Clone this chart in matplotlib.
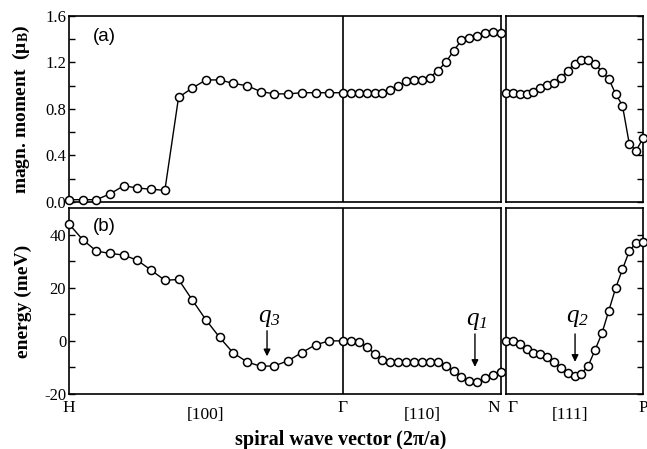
import matplotlib
matplotlib.use("Agg")
import matplotlib.pyplot as plt
import numpy as np

plt.rcParams['font.family'] = ['Liberation Serif', 'DejaVu Serif']
plt.rcParams['mathtext.fontset'] = 'custom'
plt.rcParams['mathtext.rm'] = 'Liberation Serif'
plt.rcParams['mathtext.it'] = 'Liberation Serif:italic'
plt.rcParams['mathtext.bf'] = 'Liberation Serif:bold'
# italic digits for the q subscripts (mathit forces digits upright)
plt.rcParams['mathtext.cal'] = 'Liberation Serif:italic'
plt.rcParams['axes.unicode_minus'] = False

# path segment lengths (in the plot's own x units, H-Gamma = 1)
len_hg, len_gn, len_gp = 1.0, 0.577, 0.5
npts = 21

# magnetic moment (mu_B) along H->Gamma, Gamma->N, Gamma->P
mom_hg = [0.02, 0.02, 0.02, 0.07, 0.14, 0.12, 0.11, 0.10, 0.90, 0.98, 1.05,
          1.05, 1.02, 1.00, 0.95, 0.93, 0.93, 0.94, 0.94, 0.94, 0.94]
mom_gn = [0.94, 0.94, 0.94, 0.94, 0.94, 0.94, 0.96, 1.00, 1.04, 1.05, 1.05,
          1.07, 1.13, 1.20, 1.30, 1.39, 1.41, 1.43, 1.45, 1.46, 1.45]
mom_gp = [0.94, 0.94, 0.93, 0.93, 0.95, 0.98, 1.01, 1.02, 1.07, 1.13, 1.19,
          1.22, 1.22, 1.19, 1.12, 1.06, 0.93, 0.83, 0.50, 0.44, 0.55]

# energy (meV)
en_hg = [44.0, 38.1, 33.8, 32.9, 32.3, 30.3, 26.6, 22.8, 23.1, 15.4, 7.9,
         1.3, -4.6, -7.9, -9.6, -9.4, -7.5, -4.4, -1.5, 0.0, 0.0]
en_gn = [0.0, 0.0, -0.6, -2.2, -4.8, -7.1, -8.0, -7.8, -7.8, -7.9, -7.9,
         -8.0, -8.1, -9.4, -11.3, -13.5, -15.0, -15.3, -14.1, -12.9, -11.6]
en_gp = [0.0, 0.0, -1.0, -3.1, -4.4, -5.1, -5.9, -7.8, -10.4, -12.1, -13.1,
         -12.3, -9.4, -3.4, 2.8, 11.3, 19.8, 26.9, 33.8, 36.9, 37.3]

x_hg = np.linspace(0, len_hg, npts)
x_gn = len_hg + np.linspace(0, len_gn, npts)
x_gp = np.linspace(0, len_gp, npts)

fig = plt.figure(figsize=(6.47, 4.49), dpi=100)
axL_top = fig.add_axes([0.1066, 0.5501, 0.6677, 0.4143])
axR_top = fig.add_axes([0.7821, 0.5501, 0.2117, 0.4143])
axL_bot = fig.add_axes([0.1066, 0.1225, 0.6677, 0.4142])
axR_bot = fig.add_axes([0.7821, 0.1225, 0.2117, 0.4142])

style = dict(color='black', lw=1.0, marker='o', ms=5.8, mfc='white',
             mec='black', mew=1.1, clip_on=False, zorder=3)

axL_top.plot(np.concatenate([x_hg, x_gn[1:]]), mom_hg + mom_gn[1:], **style)
axR_top.plot(x_gp, mom_gp, **style)
axL_bot.plot(np.concatenate([x_hg, x_gn[1:]]), en_hg + en_gn[1:], **style)
axR_bot.plot(x_gp, en_gp, **style)

for ax in (axL_top, axL_bot):
    ax.set_xlim(0, len_hg + len_gn)
    ax.axvline(len_hg, color='black', lw=1.2, zorder=2)
for ax in (axR_top, axR_bot):
    ax.set_xlim(0, len_gp)

for ax in (axL_top, axR_top):
    ax.set_ylim(0, 1.6)
    ax.set_yticks(np.arange(0, 1.61, 0.4))
    ax.set_yticks(np.arange(0.2, 1.6, 0.4), minor=True)
for ax in (axL_bot, axR_bot):
    ax.set_ylim(-20, 50)
    ax.set_yticks([-20, 0, 20, 40])
    ax.set_yticks([-10, 10, 30], minor=True)

for ax in (axL_top, axR_top, axL_bot, axR_bot):
    for s in ax.spines.values():
        s.set_linewidth(1.2)
    ax.set_xticks([])
    ax.tick_params(axis='y', which='both', direction='in', length=4,
                   width=1.0, labelsize=12, pad=2)

for ax in (axR_top, axR_bot):
    ax.tick_params(axis='y', which='both', left=False, right=True,
                   labelleft=False, labelright=False)

axL_top.set_yticklabels(['0.0', '0.4', '0.8', '1.2', '1.6'])

axL_top.set_ylabel('magn. moment  (μ$_\\mathregular{B}$)', fontsize=14,
                   fontweight='bold')
axL_bot.set_ylabel('energy (meV)', fontsize=14, fontweight='bold')
axL_top.yaxis.set_label_coords(-0.085, 0.5)
axL_bot.yaxis.set_label_coords(-0.085, 0.5)

axL_top.text(0.055, 0.89, '(a)', transform=axL_top.transAxes, fontsize=13.5,
             family='Liberation Sans', ha='left', va='center')
axL_bot.text(0.055, 0.90, '(b)', transform=axL_bot.transAxes, fontsize=13.5,
             family='Liberation Sans', ha='left', va='center')

# path labels below the bottom panels
lab = dict(xycoords=('data', 'axes fraction'), textcoords='offset points',
           fontsize=12.5, va='center')
axL_bot.annotate('H', xy=(0, 0), xytext=(0, -10), ha='center', **lab)
axL_bot.annotate('[100]', xy=(len_hg / 2, 0), xytext=(0, -15), ha='center', **lab)
axL_bot.annotate('Γ', xy=(len_hg, 0), xytext=(0, -10), ha='center', **lab)
axL_bot.annotate('[110]', xy=(len_hg + len_gn / 2, 0), xytext=(0, -15), ha='center', **lab)
axL_bot.annotate('N', xy=(len_hg + len_gn, 0), xytext=(-1, -10), ha='right', **lab)
axR_bot.annotate('Γ', xy=(0, 0), xytext=(1, -10), ha='left', **lab)
axR_bot.annotate('[111]', xy=(len_gp / 2, 0), xytext=(-3, -15), ha='center', **lab)
axR_bot.annotate('P', xy=(len_gp, 0), xytext=(0, -10), ha='center', **lab)

fig.text(341 / 647, 1 - 440 / 449, 'spiral wave vector (2π/a)', fontsize=14.5,
         fontweight='bold', ha='center', va='center')

# minima markers
arrow = dict(arrowstyle='-|>', color='black', lw=1.0, mutation_scale=10,
             shrinkA=0, shrinkB=0)
for ax, xq, ytop, ybot, ytxt, name in [
        (axL_bot, 0.723, 3.8, -5.8, 8.5, r'$q_{\mathcal{3}}$'),
        (axL_bot, 1.482, 2.6, -9.8, 7.3, r'$q_{\mathcal{1}}$'),
        (axR_bot, 0.252, 2.6, -7.9, 8.5, r'$q_{\mathcal{2}}$')]:
    ax.annotate('', xy=(xq, ybot), xytext=(xq, ytop), arrowprops=arrow)
    ax.text(xq + 0.008, ytxt, name, fontsize=18, ha='center', va='center')

fig.savefig('out.png', dpi=100)
